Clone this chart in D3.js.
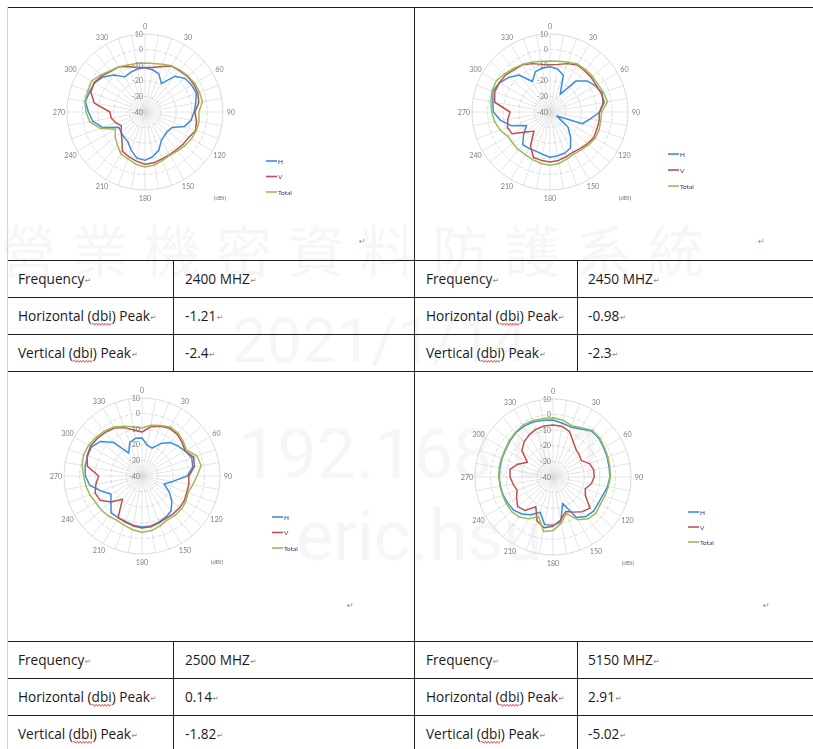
<!DOCTYPE html>
<html>
<head>
<meta charset="utf-8">
<script src="https://cdn.jsdelivr.net/npm/d3@7"></script>
<style>
  body { margin: 0; background: #fff; }
  svg { display: block; }
</style>
</head>
<body>
<svg id="page" width="813" height="749"></svg>
<script>
// Measurement angles (degrees) shared by every pattern
const angles = [0,10,20,30,40,50,60,70,80,90,100,110,120,130,140,150,160,170,
                180,190,200,210,220,230,240,250,260,270,280,290,300,310,320,330,340,350];
const angleLabels = [0,30,60,90,120,150,180,210,240,270,300,330];
const ringValues = [-40,-30,-20,-10,0,10];
const seriesNames = ["H","V","Total"];

// 2400 MHz
const h2400 = [-11.6,-12.5,-14,-19,-10,-6.5,-5.5,-5,-7,-8.5,-10,-13,-20,-21,-20.5,-19,-14,-11,
               -9,-10,-14,-18,-19,-20,-20.5,-11,-6,-3.7,-1.21,-2.2,-2.6,-5,-9,-14,-13,-12];
const v2400 = [-11.5,-11,-9,-6,-5.5,-4.5,-4,-4,-5,-8,-6.5,-5.5,-7.5,-8,-8.5,-8.5,-8,-7,
               -6.5,-8,-9.5,-11,-17,-20,-22.5,-20,-18,-17.5,-7,-3,-2.4,-4,-6,-6.5,-9,-11];
const t2400 = [-8.6,-8.5,-7.5,-5.8,-5,-4,-3.2,-2.8,-2.6,-5.5,-4.8,-5,-5.6,-6.5,-7.5,-8,-7,-5.5,
               -4.7,-6,-8,-9,-12.5,-15,-18,-9.5,-4,-2.2,-0.8,-1,-0.5,-3,-5.5,-6.5,-8,-8.5];

// 2450 MHz
const h2450 = [-11,-12,-15,-27,-14,-9,-6.4,-4.5,-5.5,-8,-14,-18,-35,-25,-19.6,-13.5,-12,-11.5,
               -11,-12.5,-13.3,-13,-12.8,-18,-22.7,-14,-8,-3.7,-2.8,-0.98,-2.6,-5.5,-9,-17.4,-12.5,-11.5];
const v2450 = [-9.7,-9,-7,-5.2,-5.5,-5.5,-5.8,-5,-4.7,-8.4,-8,-8,-7.5,-8.5,-9.5,-10.3,-9.5,-8.5,
               -8,-8.5,-9,-15,-24,-20,-12,-11,-12.5,-14.4,-4,-2.3,-2.5,-3,-4.5,-5,-7,-9];
const t2450 = [-7.3,-7,-6,-4.5,-4.5,-4.5,-4.5,-3.5,-2.6,-6.9,-7,-6.5,-6.4,-7.5,-8.5,-9,-8,-6.5,
               -5.8,-6.5,-7.5,-8.4,-8.5,-8.8,-8.8,-6,-4,-2.6,-1.5,-0.5,-0.2,-2,-3.5,-4.7,-6,-7];

// 2500 MHz
const h2500 = [-15.6,-20,-21,-16,-12,-10,-8,-6,-7,-11,-20,-25,-20,-15,-11,-9.5,-8.5,-7.5,
               -7.3,-8,-9,-9.2,-9.2,-14,-17,-12,-6,-3.7,-3,-2.8,-2.6,-5.5,-12,-23,-17,-15.5];
const v2500 = [-11.8,-8,-6,-4.7,-5,-6.5,-8,-4.7,-6,-10,-9.5,-9.4,-8.6,-8.5,-8.6,-8.8,-8,-7,
               -6.7,-7.5,-8.5,-9.2,-20.6,-14,-9,-8,-10,-12.2,-4.5,-2.5,-1.82,-2.5,-3.5,-4.5,-7,-10];
const t2500 = [-9.2,-7,-5.5,-3.7,-4,-5.5,-6.9,-2.5,-1.5,-4.7,-7,-8.6,-7.5,-7,-7,-7.5,-6,-4.5,
               -4,-5,-6.5,-7.3,-6.5,-6,-5.8,-4.5,-3.5,-2.6,-1,-0.2,-0.5,-1.5,-2.5,-3.7,-6,-8];

// 5150 MHz
const h5150 = [-3.5,-5,-6,-4.5,-1.5,-1.5,-2.5,-3,-3.5,-3.5,-4.5,-6,-6.5,-6,-7,-10,-22,-11,
               -9,-9,-16,-12,-9,-7,-6.5,-6,-5.8,-5.5,-5.5,-5.2,-5,-4,-3,-2.5,-2.5,-3];
const v5150 = [-6.7,-7,-9,-14,-17,-18,-19,-15,-13.5,-13.6,-15,-18,-16,-9,-11,-14,-16.4,-12,
               -8.4,-7,-10,-18,-12,-10.5,-13,-15.5,-14,-12.5,-12,-16,-21,-14,-11,-9,-7.5,-6.8];
const t5150 = [-2,-3,-5,-3.5,-1,-1,-2,-2.5,-3,-3.2,-4,-4.5,-5,-4,-5,-8.4,-15,-10,
               -5.6,-4.6,-13,-9,-6.5,-5.5,-5.5,-5.6,-5.5,-5.2,-5,-4.8,-4.6,-3.5,-2.5,-1.5,-1.5,-2];

// Table contents
const frequencies = ["2400 MHZ","2450 MHZ","2500 MHZ","5150 MHZ"];
const hPeaks = ["-1.21","-0.98","0.14","2.91"];
const vPeaks = ["-2.4","-2.3","-1.82","-5.02"];
const rowLabels = ["Frequency","Horizontal (dbi) Peak","Vertical (dbi) Peak"];

const colors = {H: "#3a8edb", V: "#c0504d", Total: "#9bbb59"};

// Page layout: one chart cell + 3-row table per quadrant
const panels = [
  {h: h2400, v: v2400, t: t2400, cx: 145, cy: 112, legX: 266, legY: 161, legDy: 15.5, mark: [359, 241], tableY: 260, col1: 18, col2: 185},
  {h: h2450, v: v2450, t: t2450, cx: 550, cy: 112, legX: 668, legY: 154, legDy: 16,   mark: [758, 241], tableY: 260, col1: 426, col2: 588},
  {h: h2500, v: v2500, t: t2500, cx: 142, cy: 476, legX: 272, legY: 517, legDy: 15.5, mark: [347, 605], tableY: 641, col1: 18, col2: 185},
  {h: h5150, v: v5150, t: t5150, cx: 553, cy: 477, legX: 688, legY: 512, legDy: 15,   mark: [763, 605], tableY: 641, col1: 426, col2: 588}
];

const svg = d3.select("#page");
svg.append("rect").attr("width", 813).attr("height", 749).attr("fill", "#fff");

const defs = svg.append("defs");
defs.append("filter").attr("id", "soft")
  .append("feGaussianBlur").attr("stdDeviation", 0.35);

// Faint watermark behind the document
const wm = svg.append("g").attr("fill", "#f6f6f6");
wm.append("text").attr("x", 0).attr("y", 272)
  .attr("font-family", "'Noto Sans CJK TC'").attr("font-size", 56)
  .attr("letter-spacing", 16).text("營業機密資料防護系統");
wm.append("text").attr("x", 232).attr("y", 362)
  .attr("font-family", "Roboto").attr("font-size", 62).text("2021/1/14");
wm.append("text").attr("x", 238).attr("y", 478)
  .attr("font-family", "Roboto").attr("font-size", 70).text("192.168.0.1");
wm.append("text").attr("x", 296).attr("y", 560)
  .attr("font-family", "Roboto").attr("font-size", 70).text("eric.hsu");

// Table borders
const grid = svg.append("g").attr("stroke", "#1e1e1e").attr("stroke-width", 1).attr("shape-rendering", "crispEdges");
svg.append("line").attr("x1", 7.5).attr("x2", 7.5).attr("y1", 7).attr("y2", 749)
  .attr("stroke", "#d6d6d6").attr("shape-rendering", "crispEdges");
[7, 260, 297, 334, 371, 641, 678, 715].forEach(y => {
  grid.append("line").attr("x1", 7).attr("x2", 813).attr("y1", y + 0.5).attr("y2", y + 0.5);
});
grid.append("line").attr("x1", 414.5).attr("x2", 414.5).attr("y1", 7).attr("y2", 749);
[[173, 260, 371], [577, 260, 371], [173, 641, 749], [577, 641, 749]].forEach(([x, y1, y2]) => {
  grid.append("line").attr("x1", x + 0.5).attr("x2", x + 0.5).attr("y1", y1).attr("y2", y2);
});

// Radar scale shared by all four patterns
const rScale = d3.scaleLinear().domain([-40, 10]).range([0, 78]);
const rad = a => a * Math.PI / 180;
const radial = d3.lineRadial()
  .angle((d, i) => rad(angles[i]))
  .radius(d => rScale(d))
  .curve(d3.curveLinearClosed);

const labelFont = "Lato, 'Open Sans', sans-serif";

function drawPolar(p) {
  const g = svg.append("g").attr("transform", `translate(${p.cx},${p.cy})`).attr("filter", "url(#soft)");
  const R = rScale(10);

  // spokes
  g.append("g").selectAll("line").data(angles).join("line")
    .attr("x1", 0).attr("y1", 0)
    .attr("x2", a => R * Math.sin(rad(a)))
    .attr("y2", a => -R * Math.cos(rad(a)))
    .attr("stroke", "#dadada").attr("stroke-width", 0.7);

  // rings
  g.append("g").selectAll("circle").data(ringValues.filter(v => v > -40)).join("circle")
    .attr("r", d => rScale(d))
    .attr("fill", "none")
    .attr("stroke", d => d === 10 ? "#d0d0d0" : "#d4d4d4")
    .attr("stroke-width", 0.8)
    .attr("stroke-dasharray", d => d === 10 ? null : "4,2");

  // series: H, V, then Total on top
  [["H", p.h], ["V", p.v], ["Total", p.t]].forEach(([name, vals]) => {
    g.append("path").datum(vals)
      .attr("d", radial)
      .attr("fill", "none")
      .attr("stroke", colors[name])
      .attr("stroke-width", 1.5)
      .attr("stroke-linejoin", "round");
  });

  // angle labels
  g.append("g").selectAll("text").data(angleLabels).join("text")
    .attr("x", a => (R + 8) * Math.sin(rad(a)))
    .attr("y", a => -(R + 8) * Math.cos(rad(a)))
    .attr("text-anchor", "middle").attr("dominant-baseline", "central")
    .attr("font-family", labelFont).attr("font-size", 7.2).attr("fill", "#7f7f7f")
    .text(d => d);

  // value axis labels
  g.append("g").selectAll("text").data(ringValues).join("text")
    .attr("x", -2).attr("y", d => -rScale(d))
    .attr("text-anchor", "end").attr("dominant-baseline", "central")
    .attr("font-family", labelFont).attr("font-size", 7.2).attr("fill", "#7f7f7f")
    .text(d => d);

  // unit label
  g.append("text").attr("x", 75).attr("y", 85)
    .attr("text-anchor", "middle").attr("dominant-baseline", "central")
    .attr("font-family", labelFont).attr("font-size", 6.5).attr("fill", "#7f7f7f")
    .text("(dBi)");

  // legend
  const lg = svg.append("g").attr("filter", "url(#soft)");
  seriesNames.forEach((name, i) => {
    const y = p.legY + i * p.legDy;
    lg.append("line").attr("x1", p.legX).attr("x2", p.legX + 11).attr("y1", y).attr("y2", y)
      .attr("stroke", colors[name]).attr("stroke-width", 1.6);
    lg.append("text").attr("x", p.legX + 12).attr("y", y).attr("dominant-baseline", "central")
      .attr("font-family", labelFont).attr("font-size", 6.5).attr("fill", "#2b2f7a")
      .text(name);
  });

  // paragraph mark in the chart cell
  svg.append("text").attr("x", p.mark[0]).attr("y", p.mark[1]).attr("dominant-baseline", "central")
    .attr("font-family", "'DejaVu Sans'").attr("font-size", 8).attr("fill", "#8c8c8c").text("\u21B5");
}

// Table text: size chosen so the widest label fills its cell like the document does
const tableFont = "'Open Sans', 'Noto Sans', sans-serif";
const probe = svg.append("text").attr("font-family", tableFont).attr("font-size", 12).text(rowLabels[1]);
const tableSize = 12 * 132 / probe.node().getComputedTextLength();
probe.remove();

function cellText(x, y, str) {
  const t = svg.append("text").attr("x", x).attr("y", y)
    .attr("font-family", tableFont).attr("font-size", tableSize).attr("fill", "#1a1a1a")
    .text(str);
  const w = t.node().getComputedTextLength();
  svg.append("text").attr("x", x + w + 0.5).attr("y", y - 1)
    .attr("font-family", "'DejaVu Sans'").attr("font-size", 7.5).attr("fill", "#8c8c8c").text("\u21B5");
  const k = str.indexOf("dbi");
  if (k >= 0) {
    const node = t.node();
    const x0 = x + node.getSubStringLength(0, k);
    const x1 = x0 + node.getSubStringLength(k, 3);
    let d = `M${x0},${y + 3}`;
    let up = true;
    for (let xx = x0 + 1.5; xx <= x1 + 0.01; xx += 1.5) {
      d += `L${xx},${y + (up ? 2 : 4)}`;
      up = !up;
    }
    svg.append("path").attr("d", d).attr("fill", "none").attr("stroke", "#e02020").attr("stroke-width", 0.8);
  }
}

panels.forEach((p, i) => {
  drawPolar(p);
  const values = [frequencies[i], hPeaks[i], vPeaks[i]];
  rowLabels.forEach((lab, r) => {
    const y = p.tableY + 24.3 + r * 37;
    cellText(p.col1, y, lab);
    cellText(p.col2, y, values[r]);
  });
});
</script>
</body>
</html>
